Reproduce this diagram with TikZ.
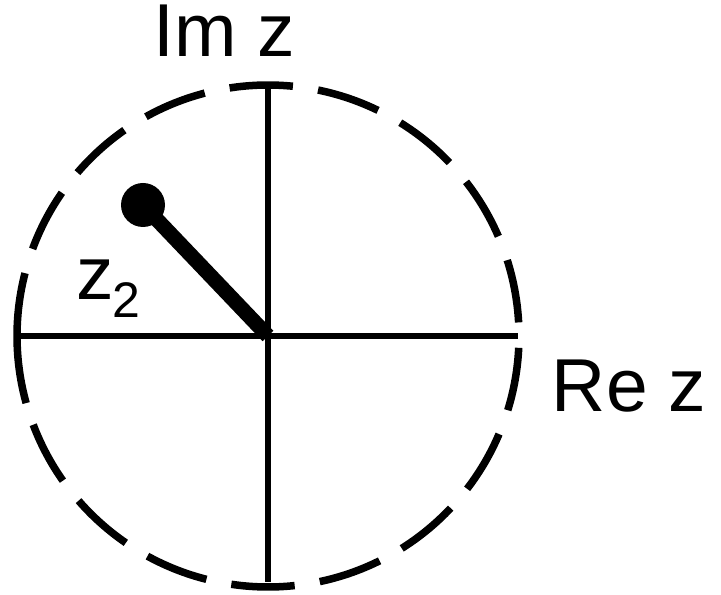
\documentclass[tikz,border=0pt]{standalone}
\usepackage{fontspec}
\setmainfont{Liberation Sans}
\begin{document}
\begin{tikzpicture}[x=1pt,y=1pt,
  axisline/.style={line width=6pt},
  circdash/.style={line width=7.5pt},
  vector/.style={line width=15pt},
  biglabel/.style={inner sep=0pt,font=\fontsize{75}{80}\selectfont}]
\useasboundingbox (0,0) rectangle (721,595);
\coordinate (O) at (268,259);
\coordinate (L) at (20,259);
\coordinate (R) at (518,259);
\coordinate (T) at (268,510);
\coordinate (B) at (268,13);
\coordinate (P) at (143,390);
% dashed circle drawn as arcs
\foreach \a in {-159.3,-139,-118.7,-98.4,-78.1,-57.8,-37.5,-17.2,3.1,23.4,43.7,64.0,84.3,104.6,124.9,145.2}{
  \draw[circdash] (O) ++(\a:251) arc[start angle=\a, end angle=\a+14.5, radius=251];
}
\draw[circdash] (O) ++(165.5:251) arc[start angle=165.5, end angle=195.5, radius=251];
% axes
\draw[axisline] (L) -- (R);
\draw[axisline] (B) -- (T);
% vector z2
\draw[vector] (O) -- (P);
\node[circle,fill=black,minimum size=44pt,inner sep=0pt] (dot) at (P) {};
% labels
\node[biglabel,anchor=base,text height=55pt] (im) at (224,538) {Im z};
\node[biglabel,anchor=base] (re) at (629,183) {Re z};
\node[biglabel,anchor=base west] (z2) at (76,295) {z};
\node[inner sep=0pt,anchor=base west,font=\fontsize{50}{55}\selectfont] (sub) at (112,277) {2};
\end{tikzpicture}
\end{document}
